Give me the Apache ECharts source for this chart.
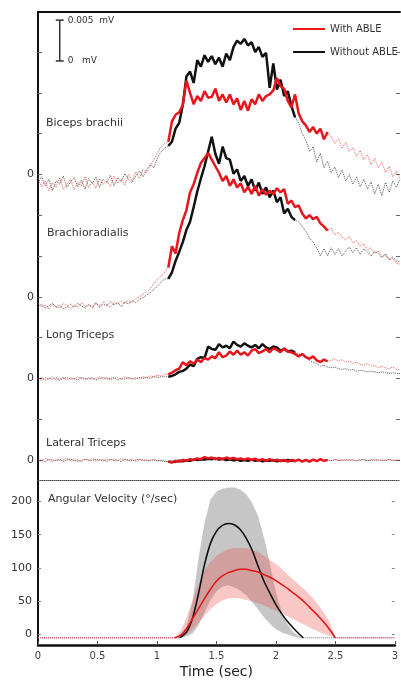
<!DOCTYPE html>
<html><head><meta charset="utf-8">
<script src="https://cdn.jsdelivr.net/npm/echarts@6/dist/echarts.min.js"></script>
<style>html,body{margin:0;padding:0;background:#fff}#c{width:401px;height:681px}</style>
</head><body><div id="c"></div>
<script>
// ---------- EMG data (values in µV relative to each muscle's own zero), sampled every 0.03 s from 0 to 3 s ----------
const emgStep = 0.03;
const emgTime = Array.from({length: 101}, (_, i) => +(i * emgStep).toFixed(2));

const bicepsWith = [-0.5,-1.5,-0.8,-2.0,-1.0,-1.6,-0.4,-1.8,-1.2,-0.6,-1.9,-1.0,-1.4,-0.3,-1.6,-0.9,-1.7,-0.5,-1.2,-0.8,-1.5,-0.2,-1.1,-0.6,-1.3,0.0,-0.8,0.3,-0.5,0.6,0.2,1.0,1.8,2.6,3.4,
  3.8,4.0,6.5,7.3,7.6,8.5,11.5,10.0,8.6,9.6,9.0,10.2,9.4,9.5,10.5,9.0,9.8,8.8,9.8,8.6,9.3,7.9,9.0,7.8,9.2,8.6,9.8,9.0,9.6,9.8,10.3,11.8,10.8,10.5,9.0,8.2,9.8,7.5,6.5,6.0,5.2,5.8,5.0,5.6,4.3,5.2,
  4.6,3.8,4.4,3.2,3.9,2.8,3.3,2.2,2.9,1.8,2.4,1.2,2.0,0.8,1.5,0.2,1.0,-0.3,0.4,-0.6];
const bicepsWithout = [-1.0,-0.3,-1.4,-0.6,-2.0,-0.8,-1.2,-0.2,-1.6,-0.9,-0.4,-1.5,-0.7,-1.8,-0.5,-1.1,-0.3,-1.6,-0.6,-1.0,-0.1,-1.4,-0.4,-0.9,0.1,-0.6,-1.0,-0.2,0.4,-0.3,0.6,1.2,0.8,2.0,2.8,
  3.2,3.5,4.0,5.6,6.3,8.5,12.0,12.6,11.2,14.0,13.2,14.6,13.8,14.5,13.5,14.3,13.2,14.8,14.0,15.6,16.4,16.0,16.6,15.8,16.2,15.0,15.6,14.4,14.9,10.6,13.6,10.4,11.6,9.6,10.2,8.4,7.0,
  6.3,5.0,4.2,2.8,3.4,1.5,2.6,0.8,1.6,0.2,0.9,-0.4,0.5,-0.8,0.0,-1.2,-0.3,-1.5,-0.6,-1.8,-0.9,-2.4,-1.2,-2.6,-1.0,-2.2,-0.8,-1.6,-0.6];
const brachioWith = [-0.8,-1.3,-1.0,-1.5,-0.9,-1.2,-1.4,-0.8,-1.1,-1.5,-1.0,-1.3,-0.7,-1.2,-0.9,-1.4,-0.8,-1.1,-0.6,-1.0,-1.3,-0.7,-0.9,-0.5,-0.8,-0.4,-0.7,-0.2,0.0,0.3,0.6,1.0,
  1.6,2.2,2.5,3.0,3.6,6.2,5.3,7.8,9.4,10.6,12.8,13.8,15.2,16.4,17.0,17.6,16.8,16.0,15.2,14.2,14.8,13.6,14.4,13.4,13.9,12.8,13.5,12.6,13.6,12.4,13.2,12.5,13.0,12.6,13.3,12.8,13.2,11.4,11.8,11.0,11.2,10.2,9.6,10.0,9.5,9.8,9.0,8.6,8.1,
  8.4,7.6,7.9,7.3,7.0,7.4,6.6,6.9,6.2,6.5,5.8,6.0,5.3,5.6,4.9,5.1,4.5,4.7,4.1,4.0];
const brachioWithout = [-1.2,-0.9,-1.4,-1.1,-0.8,-1.3,-1.0,-1.5,-1.2,-0.9,-1.3,-0.8,-1.1,-1.4,-1.0,-1.2,-0.7,-1.3,-0.9,-1.1,-0.6,-1.0,-0.7,-1.2,-0.6,-0.9,-0.5,-0.7,-0.3,-0.1,0.2,0.5,
  0.9,1.3,1.8,2.2,2.2,3.0,4.4,5.5,6.7,8.2,9.2,11.0,12.9,14.5,16.0,17.8,19.6,17.5,16.3,18.4,17.0,16.8,15.1,15.6,14.2,14.8,13.6,14.4,13.0,14.0,12.6,13.4,12.2,13.0,11.6,12.2,10.2,10.8,9.8,9.4,
  9.2,8.6,8.0,7.2,6.7,6.0,5.0,5.9,5.0,6.0,5.2,5.9,5.0,5.6,6.1,5.4,6.0,5.2,5.9,5.5,5.0,5.6,5.3,4.8,5.3,4.6,4.9,4.4,4.3];
const longWith = [0.0,-0.2,0.1,-0.1,0.2,-0.2,0.0,0.1,-0.2,0.1,-0.1,0.2,0.0,-0.2,0.1,-0.1,0.0,0.2,-0.1,0.1,-0.2,0.0,0.1,-0.1,0.2,0.0,-0.1,0.1,0.0,0.2,0.1,0.3,0.2,0.4,
  0.3,0.5,0.5,0.7,1.0,1.2,2.0,1.6,2.1,1.8,2.3,2.0,2.5,2.3,2.7,2.5,3.2,2.6,2.8,3.3,2.9,3.4,2.9,3.2,2.8,3.4,3.6,3.1,3.3,3.6,3.2,3.7,3.5,3.2,3.7,3.3,3.2,3.0,2.7,3.0,2.6,2.4,2.7,2.2,2.0,2.3,2.1,
  2.2,2.4,2.1,2.3,2.0,2.1,1.8,2.0,1.7,1.6,1.8,1.5,1.6,1.3,1.5,1.3,1.2,1.4,1.1,1.1];
const longWithout = [-0.1,0.1,-0.2,0.0,-0.1,0.1,-0.2,0.0,0.1,-0.1,0.0,-0.2,0.1,0.0,-0.1,0.1,-0.2,0.0,0.1,-0.1,0.0,0.1,-0.2,0.0,-0.1,0.1,0.0,-0.1,0.1,0.0,0.1,0.0,0.2,0.1,
  0.2,0.2,0.2,0.3,0.5,0.8,0.9,1.2,1.7,1.5,2.4,2.6,2.5,3.9,3.6,3.5,4.2,3.8,4.0,3.7,4.5,4.1,3.9,4.3,4.0,3.8,4.1,3.7,4.2,3.8,3.6,3.9,3.8,3.4,3.6,3.3,3.4,3.2,
  3.0,2.8,2.5,2.2,2.0,1.8,1.5,1.6,1.4,1.3,1.4,1.2,1.1,1.2,1.0,1.1,0.9,1.0,0.9,0.8,0.9,0.8,0.7,0.8,0.7,0.6,0.7,0.6,0.6];
const lateralWith = [0.1,-0.1,0.2,0.0,-0.2,0.1,-0.1,0.0,0.2,-0.1,0.1,-0.2,0.0,0.1,-0.1,0.2,-0.1,0.0,0.1,-0.2,0.0,0.1,-0.1,0.2,0.0,-0.1,0.1,-0.2,0.0,0.1,-0.1,0.0,0.1,-0.1,0.0,-0.1,
  -0.2,-0.3,-0.1,-0.2,0.0,-0.1,0.1,0.0,0.2,0.1,0.35,0.2,0.3,0.1,0.25,0.1,0.3,0.15,0.25,0.1,0.2,0.05,0.2,0.0,0.15,-0.05,0.1,-0.1,0.1,-0.1,0.05,-0.15,0.0,-0.2,0.0,-0.15,0.05,-0.2,0.0,-0.2,0.05,-0.15,0.1,-0.1,0.0,
  -0.1,0.1,-0.1,0.0,0.1,-0.1,0.0,-0.1,0.1,0.0,-0.1,0.0,0.1,-0.1,0.0,-0.1,0.1,0.0,-0.1,0.0];
const lateralWithout = [-0.1,0.0,-0.2,0.1,0.0,-0.1,0.1,-0.2,0.0,0.1,-0.1,0.0,-0.2,0.1,0.0,-0.1,0.1,0.0,-0.1,0.0,0.1,-0.1,0.0,-0.2,0.1,0.0,-0.1,0.0,0.1,-0.1,0.0,-0.1,0.0,-0.1,-0.1,-0.2,
  -0.2,-0.25,-0.2,-0.1,-0.15,-0.05,-0.1,0.05,0.0,0.1,0.05,0.15,0.1,0.2,0.05,0.15,0.0,0.1,-0.05,0.05,-0.1,0.0,-0.1,0.05,-0.1,0.0,-0.15,-0.05,-0.1,0.0,-0.15,-0.05,-0.1,0.0,-0.1,-0.05,
  0.0,-0.1,0.05,-0.1,0.0,-0.05,0.1,-0.1,0.0,-0.1,0.05,-0.05,0.0,-0.1,0.05,0.0,-0.1,0.0,0.05,-0.1,0.0,-0.05,0.05,-0.1,0.0,0.05,-0.1,0.0,-0.05];

const muscleNames = ['Biceps brachii', 'Brachioradialis', 'Long Triceps', 'Lateral Triceps'];
const muscleZeros = [35, 20, 10, 0];          // µV: where each trace's own 0 sits on the shared axis
const movementWith = [1.07, 2.40];            // s: movement window (solid trace) with ABLE
const movementWithout = [1.07, 2.13];         // s: movement window without ABLE
const scaleBarMv = 0.005;                     // mV

// ---------- Angular velocity (°/sec) ----------
const velTimeWithout = [1.19,1.25,1.30,1.35,1.40,1.45,1.50,1.55,1.60,1.65,1.70,1.75,1.80,1.85,1.90,1.95,2.00,2.05,2.10,2.15,2.20,2.23];
const velWithout   = [-5,4,25,62,105,137,155,164,167,165,158,145,127,103,80,62,45,31,19,9,0,-5];
const velWithoutHi = [-5,12,50,115,168,203,215,219,221,221,218,211,198,178,146,106,64,33,15,3,-3,-5];
const velWithoutLo = [-5,-3,2,14,33,52,65,72,74,71,66,59,49,38,26,16,8,3,0,-3,-5,-5];
const velTimeWith = [1.15,1.20,1.25,1.30,1.35,1.40,1.45,1.50,1.55,1.60,1.65,1.70,1.75,1.80,1.85,1.90,1.95,2.00,2.05,2.10,2.15,2.20,2.25,2.30,2.35,2.40,2.45,2.50];
const velWith   = [-5,-1,9,24,39,54,68,80,88,93,96,98,98,96,94,90,86,81,75,69,62,55,47,38,29,19,8,-5];
const velWithHi = [-5,6,26,52,76,97,109,118,124,128,130,130,130,127,124,118,112,106,99,90,82,74,66,57,46,34,20,-5];
const velWithLo = [-5,-4,0,8,18,28,38,45,51,54,55,54,52,50,47,44,40,36,32,27,23,18,14,9,5,1,-2,-5];
const velTicks = [0, 50, 100, 150, 200];

// ---------- styling ----------
const RED = '#e8161c', BLACK = '#111111';
const FONT = '"DejaVu Sans", sans-serif';
const TXT = '#333';

const emgSets = [
  [bicepsWith, bicepsWithout],
  [brachioWith, brachioWithout],
  [longWith, longWithout],
  [lateralWith, lateralWithout]
];

const series = [];
emgSets.forEach((pair, m) => {
  [[pair[1], 'rgba(30,30,30,0.75)'], [pair[0], 'rgba(225,40,40,0.75)']].forEach(([vals, col]) => {
    series.push({
      type: 'line', xAxisIndex: 0, yAxisIndex: 0, silent: true, symbol: 'none',
      data: emgTime.map((t, i) => [t, vals[i] + muscleZeros[m]]),
      lineStyle: {color: col, width: 1, type: 'dotted'}, z: 2
    });
  });
});
emgSets.forEach((pair, m) => {
  [[pair[1], BLACK, movementWithout, 'Without ABLE'], [pair[0], RED, movementWith, 'With ABLE']].forEach(([vals, col, win, name]) => {
    const d = [];
    emgTime.forEach((t, i) => { if (t >= win[0] - 1e-9 && t <= win[1] + 1e-9) d.push([t, vals[i] + muscleZeros[m]]); });
    series.push({
      name, type: 'line', xAxisIndex: 0, yAxisIndex: 0, silent: true, symbol: 'none',
      data: d, itemStyle: {color: col}, lineStyle: {color: col, width: 2.5}, z: 3
    });
  });
});
series.push({
  type: 'line', xAxisIndex: 0, yAxisIndex: 0, silent: true,
  symbol: 'rect', symbolSize: [8, 1.5],
  itemStyle: {color: '#333'}, lineStyle: {color: '#333', width: 1.5},
  data: [
    {value: [0.18, 48.9], label: {show: true, position: 'right', distance: 4, formatter: '0   mV'}},
    {value: [0.18, 48.9 + scaleBarMv * 1000], label: {show: true, position: 'right', distance: 4, formatter: scaleBarMv + '  mV'}}
  ],
  label: {fontSize: 9, color: TXT, fontFamily: FONT}, z: 5
});

function band(times, lo, hi, fill) {
  return {
    type: 'custom', xAxisIndex: 2, yAxisIndex: 2, silent: true, clip: true,
    data: times.map((t, i) => [t, lo[i], hi[i]]),
    encode: {x: 0, y: [1, 2]},
    renderItem: (params, api) => {
      if (params.dataIndex !== 0) return;
      const pts = [];
      for (let i = 0; i < times.length; i++) pts.push(api.coord([times[i], hi[i]]));
      for (let i = times.length - 1; i >= 0; i--) pts.push(api.coord([times[i], lo[i]]));
      return {type: 'polygon', shape: {points: pts}, style: {fill: fill}};
    }, z: 1
  };
}
series.push(band(velTimeWithout, velWithoutLo, velWithoutHi, 'rgba(120,120,120,0.42)'));
series.push(band(velTimeWith, velWithLo, velWithHi, 'rgba(240,70,70,0.30)'));
function rest(times, vals, col) {
  const n = times.length;
  return [[[0, vals[0]], [times[0], vals[0]]], [[times[n - 1], vals[n - 1]], [3, vals[n - 1]]]].map(d => ({
    type: 'line', xAxisIndex: 2, yAxisIndex: 2, silent: true, symbol: 'none', data: d,
    lineStyle: {color: col, width: 1, type: 'dotted'}, z: 2
  }));
}
series.push(...rest(velTimeWithout, velWithout, '#6a6f88'));
series.push(...rest(velTimeWith, velWith, '#e04848'));
series.push({type: 'line', xAxisIndex: 2, yAxisIndex: 2, silent: true, symbol: 'none', smooth: 0.3,
  data: velTimeWithout.map((t, i) => [t, velWithout[i]]), lineStyle: {color: BLACK, width: 1.6}, z: 3});
series.push({type: 'line', xAxisIndex: 2, yAxisIndex: 2, silent: true, symbol: 'none', smooth: 0.3,
  data: velTimeWith.map((t, i) => [t, velWith[i]]), lineStyle: {color: '#dd1a1a', width: 1.6}, z: 3});

const emgTicks = [0, 5, 10, 15, 20, 25, 30, 35, 40, 45, 50];

const chart = echarts.init(document.getElementById('c'), null, {renderer: 'canvas'});
chart.setOption({
  animation: false,
  backgroundColor: '#fff',
  textStyle: {fontFamily: FONT},
  grid: [
    {left: 38, right: 1, top: 12, height: 468},
    {left: 38, right: 1, top: 480, height: 165}
  ],
  legend: {
    orient: 'vertical', left: 288, top: 19, itemWidth: 32, itemHeight: 2, itemGap: 13,
    textStyle: {fontSize: 10, color: TXT, fontFamily: FONT},
    data: [{name: 'With ABLE', icon: 'rect'}, {name: 'Without ABLE', icon: 'rect'}],
    selectedMode: false
  },
  xAxis: [
    {gridIndex: 0, type: 'value', min: 0, max: 3, position: 'bottom',
      axisLine: {show: true, onZero: false, lineStyle: {color: '#444', width: 1, type: 'dotted'}},
      axisTick: {show: false}, axisLabel: {show: false}, splitLine: {show: false}},
    {gridIndex: 0, type: 'value', min: 0, max: 3, position: 'top',
      axisLine: {show: true, onZero: false, lineStyle: {color: '#111', width: 2}},
      axisTick: {show: false}, axisLabel: {show: false}, splitLine: {show: false}},
    {gridIndex: 1, type: 'value', min: 0, max: 3, interval: 0.5, position: 'bottom',
      axisLine: {show: true, onZero: false, lineStyle: {color: '#111', width: 2.5}},
      axisTick: {show: true, inside: true, length: 4, lineStyle: {color: '#555', width: 1}},
      axisLabel: {fontSize: 10, color: '#444', margin: 6, fontFamily: FONT},
      splitLine: {show: false},
      name: 'Time (sec)', nameLocation: 'middle', nameGap: 20,
      nameTextStyle: {fontSize: 14, color: '#222', fontFamily: FONT}}
  ],
  yAxis: [
    {gridIndex: 0, type: 'value', min: -2.45, max: 54.9, position: 'left',
      axisLine: {show: true, onZero: false, lineStyle: {color: '#111', width: 2}},
      axisTick: {show: true, inside: true, length: 4, customValues: emgTicks, lineStyle: {color: '#666'}},
      axisLabel: {show: true, customValues: muscleZeros, formatter: () => '0', fontSize: 11, color: TXT, margin: 4, fontFamily: FONT},
      splitLine: {show: false}},
    {gridIndex: 0, type: 'value', min: -2.45, max: 54.9, position: 'right',
      axisLine: {show: false, onZero: false},
      axisTick: {show: true, inside: true, length: 4, customValues: emgTicks, lineStyle: {color: '#666'}},
      axisLabel: {show: false}, splitLine: {show: false}},
    {gridIndex: 1, type: 'value', min: -15.8, max: 232.3, position: 'left',
      axisLine: {show: true, onZero: false, lineStyle: {color: '#111', width: 2}},
      axisTick: {show: true, inside: true, length: 3, customValues: velTicks, lineStyle: {color: '#888'}},
      axisLabel: {show: true, customValues: velTicks, fontSize: 11, color: TXT, margin: 6, fontFamily: FONT},
      splitLine: {show: false}},
    {gridIndex: 1, type: 'value', min: -15.8, max: 232.3, position: 'right',
      axisLine: {show: false, onZero: false},
      axisTick: {show: true, inside: true, length: 3, customValues: velTicks, lineStyle: {color: '#888'}},
      axisLabel: {show: false}, splitLine: {show: false}}
  ],
  graphic: [
    {type: 'text', left: 46, top: 118, style: {text: muscleNames[0], font: '11px ' + FONT, fill: TXT}},
    {type: 'text', left: 47, top: 228, style: {text: muscleNames[1], font: '11px ' + FONT, fill: TXT}},
    {type: 'text', left: 46, top: 330, style: {text: muscleNames[2], font: '11px ' + FONT, fill: TXT}},
    {type: 'text', left: 46, top: 438, style: {text: muscleNames[3], font: '11px ' + FONT, fill: TXT}},
    {type: 'text', left: 48, top: 494, style: {text: 'Angular Velocity (°/sec)', font: '11px ' + FONT, fill: TXT}}
  ],
  series
});
</script>
</body></html>
